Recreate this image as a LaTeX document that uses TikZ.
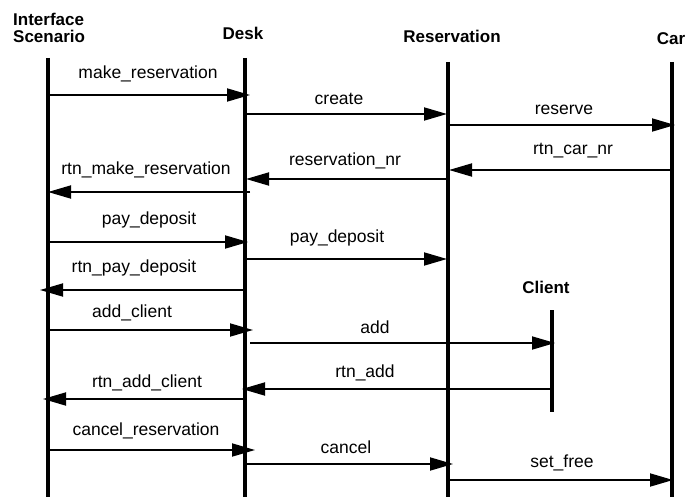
\documentclass[tikz,border=0pt]{standalone}
\usepackage{fontspec}
\setmainfont{Liberation Sans}
\usetikzlibrary{arrows.meta}
\begin{document}
\begin{tikzpicture}[x=1pt,y=-1pt,
  lifeline/.style={line width=3.2pt},
  msg/.style={line width=1.8pt,-{Triangle[length=23pt,width=13pt]}},
  msglabel/.style={anchor=base,inner sep=0pt,font=\fontsize{17.5}{17.5}\selectfont},
  objname/.style={anchor=base,inner sep=0pt,font=\fontsize{17}{17}\selectfont\bfseries}]
\useasboundingbox (0,0) rectangle (687,497);

% object names
\node[anchor=north west,inner sep=0pt,align=left,
      font=\fontsize{17}{17}\selectfont\bfseries] (nIS) at (13,12.6) {Interface\\Scenario};
\node[objname] (nDesk) at (243,40) {Desk};
\node[objname] (nRes)  at (452,43) {Reservation};
\node[objname] (nCar)  at (671,45) {Car};
\node[objname] (nCli)  at (546,293) {Client};

% lifelines
\coordinate (is-top)  at (48,58);  \coordinate (is-bot)  at (48,497);
\coordinate (dk-top)  at (245,58); \coordinate (dk-bot)  at (245,497);
\coordinate (rs-top)  at (448,62); \coordinate (rs-bot)  at (448,497);
\coordinate (car-top) at (672,62); \coordinate (car-bot) at (672,497);
\coordinate (cl-top)  at (552,310); \coordinate (cl-bot) at (552,412);
\draw[lifeline] (is-top) -- (is-bot);
\draw[lifeline] (dk-top) -- (dk-bot);
\draw[lifeline] (rs-top) -- (rs-bot);
\draw[lifeline] (car-top) -- (car-bot);
\draw[lifeline] (cl-top) -- (cl-bot);

% messages
\coordinate (m1a) at (49,95);   \coordinate (m1b) at (250,95);
\draw[msg] (m1a) -- (m1b);
\node[msglabel] (l1) at (148,79) {make\_reservation};

\coordinate (m2a) at (245,114); \coordinate (m2b) at (447,114);
\draw[msg] (m2a) -- (m2b);
\node[msglabel] (l2) at (339,105) {create};

\coordinate (m3a) at (446,125); \coordinate (m3b) at (675,125);
\draw[msg] (m3a) -- (m3b);
\node[msglabel] (l3) at (564,115) {reserve};

\coordinate (m4a) at (672,170); \coordinate (m4b) at (449,170);
\draw[msg] (m4a) -- (m4b);
\node[msglabel] (l4) at (573,154) {rtn\_car\_nr};

\coordinate (m5a) at (448,179); \coordinate (m5b) at (246,179);
\draw[msg] (m5a) -- (m5b);
\node[msglabel] (l5) at (345,165) {reservation\_nr};

\coordinate (m6a) at (250,192); \coordinate (m6b) at (48,192);
\draw[msg] (m6a) -- (m6b);
\node[msglabel] (l6) at (146,175) {rtn\_make\_reservation};

\coordinate (m7a) at (46,242);  \coordinate (m7b) at (248,242);
\draw[msg] (m7a) -- (m7b);
\node[msglabel] (l7) at (149,224) {pay\_deposit};

\coordinate (m8a) at (245,259); \coordinate (m8b) at (447,259);
\draw[msg] (m8a) -- (m8b);
\node[msglabel] (l8) at (337,242) {pay\_deposit};

\coordinate (m9a) at (245,290); \coordinate (m9b) at (40,290);
\draw[msg] (m9a) -- (m9b);
\node[msglabel] (l9) at (134,272) {rtn\_pay\_deposit};

\coordinate (m10a) at (49,330); \coordinate (m10b) at (253,330);
\draw[msg] (m10a) -- (m10b);
\node[msglabel] (l10) at (132,317) {add\_client};

\coordinate (m11a) at (250,343); \coordinate (m11b) at (555,343);
\draw[msg] (m11a) -- (m11b);
\node[msglabel] (l11) at (375,333) {add};

\coordinate (m12a) at (552,389); \coordinate (m12b) at (242,389);
\draw[msg] (m12a) -- (m12b);
\node[msglabel] (l12) at (365,377) {rtn\_add};

\coordinate (m13a) at (245,399); \coordinate (m13b) at (43,399);
\draw[msg] (m13a) -- (m13b);
\node[msglabel] (l13) at (147,387) {rtn\_add\_client};

\coordinate (m14a) at (46,450); \coordinate (m14b) at (255,450);
\draw[msg] (m14a) -- (m14b);
\node[msglabel] (l14) at (146,435) {cancel\_reservation};

\coordinate (m15a) at (245,464); \coordinate (m15b) at (453,464);
\draw[msg] (m15a) -- (m15b);
\node[msglabel] (l15) at (346,453) {cancel};

\coordinate (m16a) at (448,480); \coordinate (m16b) at (673,480);
\draw[msg] (m16a) -- (m16b);
\node[msglabel] (l16) at (562,467) {set\_free};
\end{tikzpicture}
\end{document}
